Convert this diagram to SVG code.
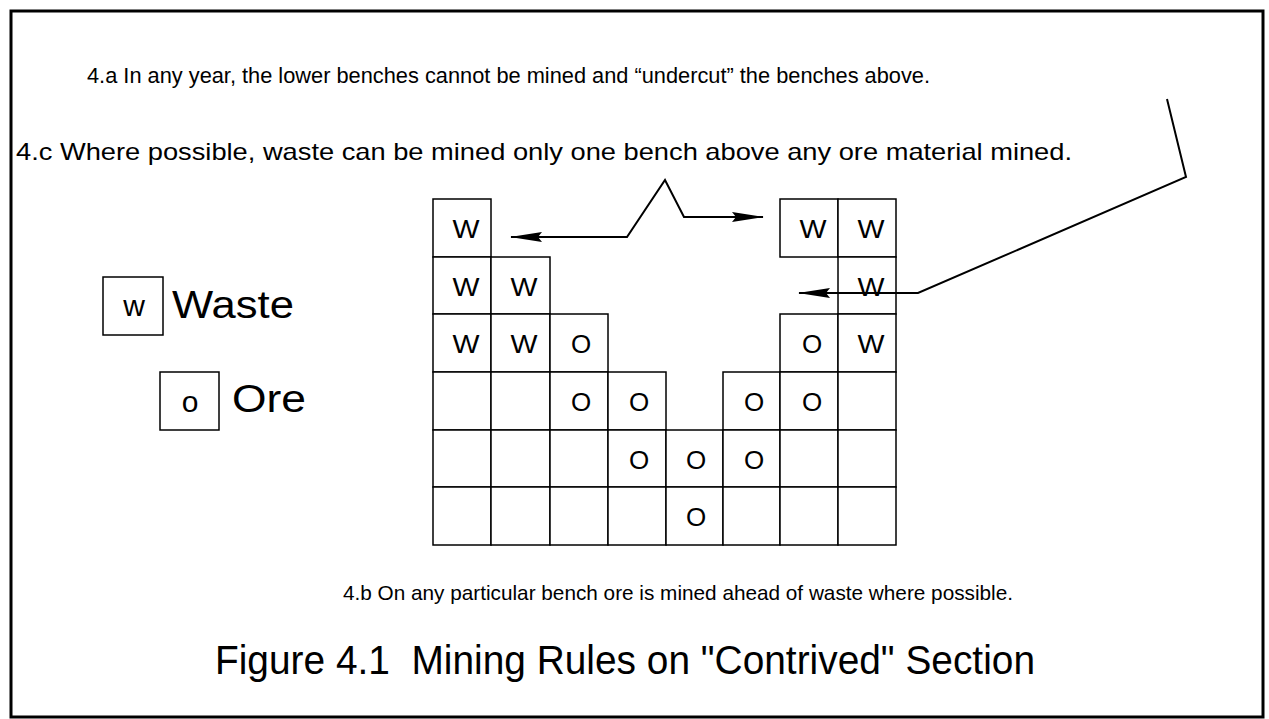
<svg xmlns="http://www.w3.org/2000/svg" width="1269" height="719" viewBox="0 0 1269 719">
<style>
  .frame { fill: #fff; stroke: #000; stroke-width: 3; }
  .cell { fill: #fff; stroke: #000; stroke-width: 1.5; }
  .lbl { font-family: "Liberation Sans", Arial, sans-serif; fill: #000; white-space: pre; }
  .cl { font-family: "Liberation Sans", Arial, sans-serif; font-size: 26px; text-anchor: middle; fill: #000; }
  .conn { fill: none; stroke: #000; stroke-width: 2; }
</style>
<defs>
  <marker id="ah" markerUnits="userSpaceOnUse" markerWidth="32" markerHeight="11" refX="31" refY="5.5" orient="auto-start-reverse">
    <path d="M0,0.5 L32,5.5 L0,10.5 L4,5.5 z" fill="#000"/>
  </marker>
</defs>
<rect class="frame" x="11" y="11" width="1252" height="706"/>

<g id="note-4a"><text class="lbl" x="87" y="83" font-size="22" textLength="843" lengthAdjust="spacingAndGlyphs">4.a In any year, the lower benches cannot be mined and “undercut” the benches above.</text></g>
<g id="note-4c"><text class="lbl" x="16" y="160" font-size="24" textLength="1056" lengthAdjust="spacingAndGlyphs">4.c Where possible, waste can be mined only one bench above any ore material mined.</text></g>
<g id="note-4b"><text class="lbl" x="343" y="600" font-size="21" textLength="670" lengthAdjust="spacingAndGlyphs">4.b On any particular bench ore is mined ahead of waste where possible.</text></g>
<g id="title"><text class="lbl" x="215" y="674" font-size="40" textLength="820" lengthAdjust="spacingAndGlyphs" xml:space="preserve">Figure 4.1  Mining Rules on "Contrived" Section</text></g>

<g id="legend-waste">
  <rect class="cell" x="103" y="277" width="60" height="58"/>
  <text class="lbl" x="134" y="316" font-size="30" text-anchor="middle">w</text>
  <text class="lbl" x="172" y="318" font-size="38" textLength="122" lengthAdjust="spacingAndGlyphs">Waste</text>
</g>
<g id="legend-ore">
  <rect class="cell" x="160" y="372" width="59" height="58"/>
  <text class="lbl" x="190" y="412" font-size="30" text-anchor="middle">o</text>
  <text class="lbl" x="232" y="412" font-size="38" textLength="74" lengthAdjust="spacingAndGlyphs">Ore</text>
</g>

<g id="section">
  <g id="r0c0"><rect class="cell" x="433" y="199" width="58" height="58"/><text class="cl" x="466" y="238" textLength="27" lengthAdjust="spacingAndGlyphs">W</text></g>
  <g id="r0c6"><rect class="cell" x="780" y="199" width="58" height="58"/><text class="cl" x="813" y="238" textLength="27" lengthAdjust="spacingAndGlyphs">W</text></g>
  <g id="r0c7"><rect class="cell" x="838" y="199" width="58" height="58"/><text class="cl" x="871" y="238" textLength="27" lengthAdjust="spacingAndGlyphs">W</text></g>
  <g id="r1c0"><rect class="cell" x="433" y="257" width="58" height="57"/><text class="cl" x="466" y="296" textLength="27" lengthAdjust="spacingAndGlyphs">W</text></g>
  <g id="r1c1"><rect class="cell" x="491" y="257" width="59" height="57"/><text class="cl" x="524" y="296" textLength="27" lengthAdjust="spacingAndGlyphs">W</text></g>
  <g id="r1c7"><rect class="cell" x="838" y="257" width="58" height="57"/><text class="cl" x="871" y="296" textLength="27" lengthAdjust="spacingAndGlyphs">W</text></g>
  <g id="r2c0"><rect class="cell" x="433" y="314" width="58" height="58"/><text class="cl" x="466" y="353" textLength="27" lengthAdjust="spacingAndGlyphs">W</text></g>
  <g id="r2c1"><rect class="cell" x="491" y="314" width="59" height="58"/><text class="cl" x="524" y="353" textLength="27" lengthAdjust="spacingAndGlyphs">W</text></g>
  <g id="r2c2"><rect class="cell" x="550" y="314" width="58" height="58"/><text class="cl" x="581" y="353">O</text></g>
  <g id="r2c6"><rect class="cell" x="780" y="314" width="58" height="58"/><text class="cl" x="812" y="353">O</text></g>
  <g id="r2c7"><rect class="cell" x="838" y="314" width="58" height="58"/><text class="cl" x="871" y="353" textLength="27" lengthAdjust="spacingAndGlyphs">W</text></g>
  <g id="r3c0"><rect class="cell" x="433" y="372" width="58" height="58"/></g>
  <g id="r3c1"><rect class="cell" x="491" y="372" width="59" height="58"/></g>
  <g id="r3c2"><rect class="cell" x="550" y="372" width="58" height="58"/><text class="cl" x="581" y="411">O</text></g>
  <g id="r3c3"><rect class="cell" x="608" y="372" width="58" height="58"/><text class="cl" x="639" y="411">O</text></g>
  <g id="r3c5"><rect class="cell" x="723" y="372" width="57" height="58"/><text class="cl" x="754" y="411">O</text></g>
  <g id="r3c6"><rect class="cell" x="780" y="372" width="58" height="58"/><text class="cl" x="812" y="411">O</text></g>
  <g id="r3c7"><rect class="cell" x="838" y="372" width="58" height="58"/></g>
  <g id="r4c0"><rect class="cell" x="433" y="430" width="58" height="57"/></g>
  <g id="r4c1"><rect class="cell" x="491" y="430" width="59" height="57"/></g>
  <g id="r4c2"><rect class="cell" x="550" y="430" width="58" height="57"/></g>
  <g id="r4c3"><rect class="cell" x="608" y="430" width="58" height="57"/><text class="cl" x="639" y="469">O</text></g>
  <g id="r4c4"><rect class="cell" x="666" y="430" width="57" height="57"/><text class="cl" x="696" y="469">O</text></g>
  <g id="r4c5"><rect class="cell" x="723" y="430" width="57" height="57"/><text class="cl" x="754" y="469">O</text></g>
  <g id="r4c6"><rect class="cell" x="780" y="430" width="58" height="57"/></g>
  <g id="r4c7"><rect class="cell" x="838" y="430" width="58" height="57"/></g>
  <g id="r5c0"><rect class="cell" x="433" y="487" width="58" height="58"/></g>
  <g id="r5c1"><rect class="cell" x="491" y="487" width="59" height="58"/></g>
  <g id="r5c2"><rect class="cell" x="550" y="487" width="58" height="58"/></g>
  <g id="r5c3"><rect class="cell" x="608" y="487" width="58" height="58"/></g>
  <g id="r5c4"><rect class="cell" x="666" y="487" width="57" height="58"/><text class="cl" x="696" y="526">O</text></g>
  <g id="r5c5"><rect class="cell" x="723" y="487" width="57" height="58"/></g>
  <g id="r5c6"><rect class="cell" x="780" y="487" width="58" height="58"/></g>
  <g id="r5c7"><rect class="cell" x="838" y="487" width="58" height="58"/></g>
</g>

<g id="connectors">
  <path class="conn" d="M511,237 L627,237 L665,180 L684,217 L763,217" marker-start="url(#ah)" marker-end="url(#ah)"/>
  <path class="conn" d="M1167,99 L1186,177 L918,293 L799,293" marker-end="url(#ah)"/>
</g>
</svg>
